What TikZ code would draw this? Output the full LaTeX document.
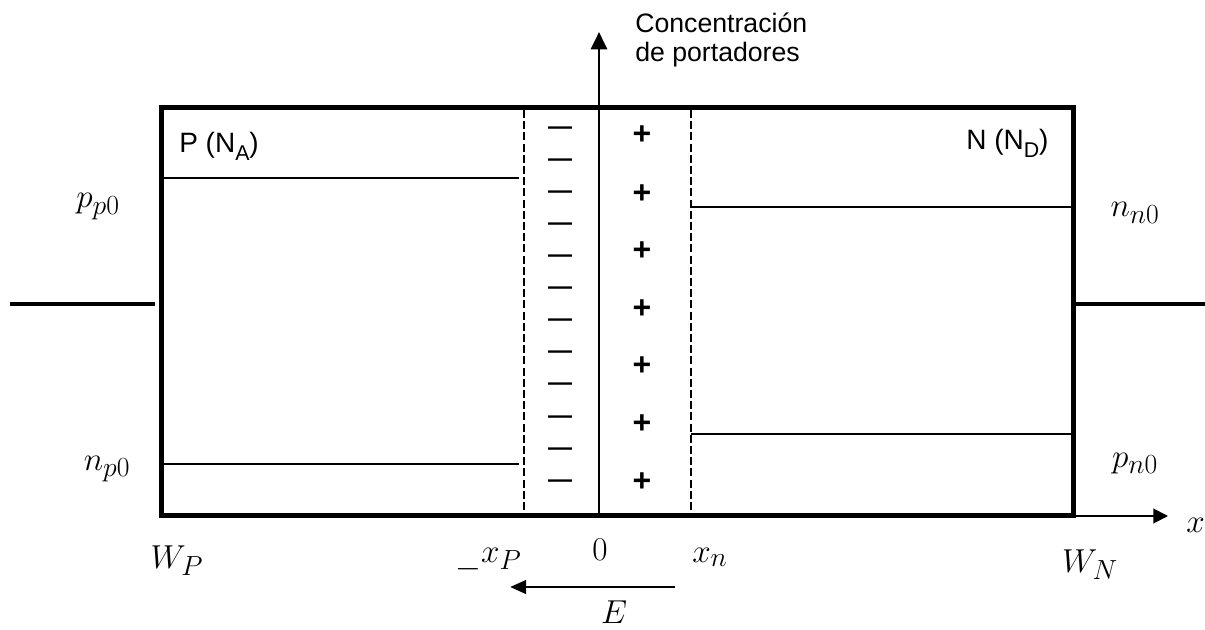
\documentclass[tikz,border=0pt]{standalone}
\usepackage{fontspec}
\setmainfont{Liberation Sans}
\usetikzlibrary{arrows.meta}
\newcommand{\mysub}[1]{\raisebox{-0.28em}{\fontsize{16}{18}\selectfont #1}}
\begin{document}
\begin{tikzpicture}[x=0.75pt,y=-0.75pt,
  boxframe/.style={line width=3.75pt},
  wireline/.style={line width=3.6pt},
  levelline/.style={line width=1.6pt},
  depedge/.style={line width=1.1pt, dash pattern=on 6pt off 2.4pt},
  axisline/.style={line width=2.2pt},
  lab/.style={font=\fontsize{20}{24}\selectfont, inner sep=0pt},
  reglab/.style={font=\fontsize{21}{24}\selectfont, inner sep=0pt},
  mlab/.style={font=\fontsize{30}{33}\selectfont, inner sep=0pt},
  negcharge/.style={font=\fontsize{18}{20}\selectfont\bfseries, inner sep=0pt, anchor=base},
  poscharge/.style={font=\fontsize{24}{26}\selectfont\bfseries, inner sep=0pt, anchor=base}]
\useasboundingbox (0,0) rectangle (1205,630);
% box corners
\coordinate (TL) at (161.5,107.5);
\coordinate (TR) at (1073.5,107.5);
\coordinate (BL) at (161.5,515.5);
\coordinate (BR) at (1073.5,515.5);
\draw[boxframe] (TL) -- (TR) -- (BR) -- (BL) -- cycle;
% wires
\coordinate (wl1) at (10,304);
\coordinate (wl2) at (155,304);
\coordinate (wr1) at (1076,304);
\coordinate (wr2) at (1205,304);
\draw[wireline] (wl1) -- (wl2);
\draw[wireline] (wr1) -- (wr2);
% depletion edges
\coordinate (dl1) at (524,110);
\coordinate (dl2) at (524,513);
\coordinate (dr1) at (691,110);
\coordinate (dr2) at (691,513);
\draw[depedge] (dl1) -- (dl2);
\draw[depedge] (dr1) -- (dr2);
% levels
\coordinate (ppa) at (164,178);
\coordinate (ppb) at (519,178);
\coordinate (npa) at (164,464);
\coordinate (npb) at (519,464);
\coordinate (nna) at (691,207);
\coordinate (nnb) at (1071,207);
\coordinate (pna) at (691,434);
\coordinate (pnb) at (1071,434);
\draw[levelline] (ppa) -- (ppb);
\draw[levelline] (npa) -- (npb);
\draw[levelline] (nna) -- (nnb);
\draw[levelline] (pna) -- (pnb);
% vertical axis
\coordinate (ya) at (599,513);
\coordinate (yb) at (599,32);
\draw[axisline,-{Triangle[length=13pt,width=12pt]}] (ya) -- (yb);
% x axis
\coordinate (xa) at (1076,516);
\coordinate (xb) at (1168,516);
\draw[line width=1.5pt,-{Triangle[length=11pt,width=11pt]}] (xa) -- (xb);
% field arrow
\coordinate (ea) at (675,587);
\coordinate (eb) at (510,587);
\draw[line width=2.2pt,-{Triangle[length=12pt,width=10pt]}] (ea) -- (eb);
% texts
\node[lab,anchor=base west] (c1) at (635,33) {Concentración};
\node[lab,anchor=base west] (c2) at (635,62) {de portadores};
\node[reglab,anchor=base west] (pNA) at (179,153) {P (N\mysub{A})};
\node[reglab,anchor=base west] (nND) at (966,150) {N (N\mysub{D})};
\node[mlab,anchor=base] (lpp) at (98,208) {$p_{p0}$};
\node[mlab,anchor=base] (lnn) at (1135,217) {$n_{n0}$};
\node[mlab,anchor=base] (lnp) at (107,470) {$n_{p0}$};
\node[mlab,anchor=base] (lpn) at (1135,467) {$p_{n0}$};
\node[mlab,anchor=base] (lwp) at (177,568) {$W_P$};
\node[mlab,anchor=base] (lwn) at (1090,572) {$W_N$};
\node[mlab,anchor=base west] (lx) at (1186,532) {$x$};
\node[mlab,anchor=base west] (lxp) at (455,562) {$\raisebox{-0.39em}{$-$}x_P$};
\node[mlab,anchor=base] (l0) at (600,560) {$0$};
\node[mlab,anchor=base west] (lxn) at (692,562) {$x_n$};
\node[mlab,anchor=base] (lE) at (614,623) {$E$};
% charges
\foreach \i/\y in {1/128,2/160,3/192,4/224,5/256,6/288,7/320,8/352,9/384,10/417,11/449,12/481}
  \node[negcharge] (m\i) at (560,\y+6.6) {—};
\foreach \i/\y in {1/133,2/192,3/249,4/307,5/364,6/422,7/480}
  \node[poscharge] (p\i) at (642,\y+11.5) {+};
\end{tikzpicture}
\end{document}
